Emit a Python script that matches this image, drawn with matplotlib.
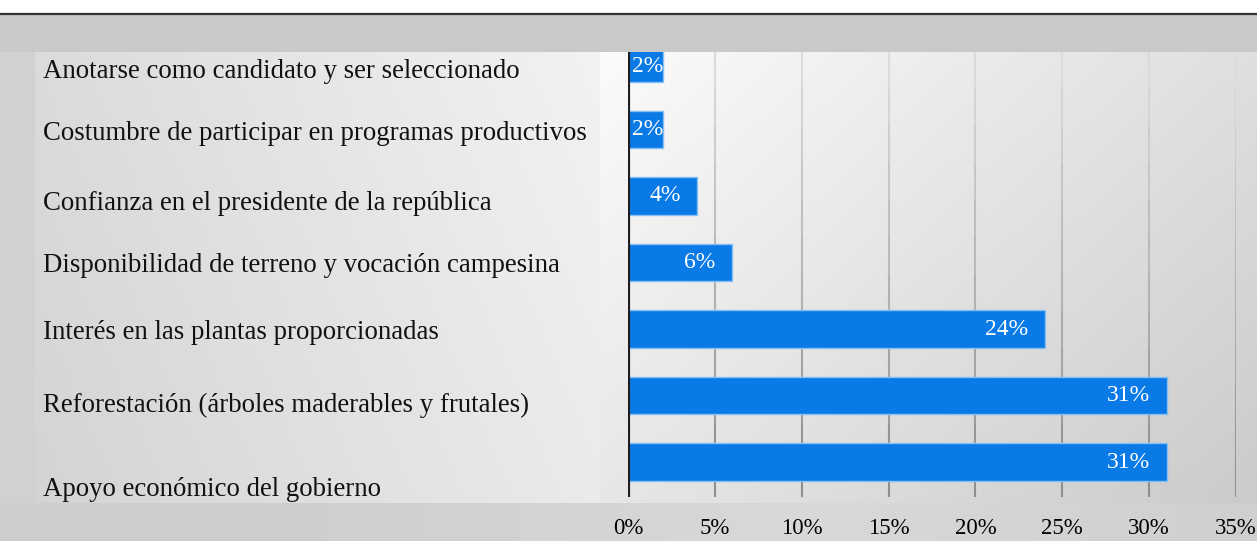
import numpy as np
import matplotlib.pyplot as plt
from matplotlib import transforms

# Survey answers (top to bottom) and their shares in percent
categories = [
    "Anotarse como candidato y ser seleccionado",
    "Costumbre de participar en programas productivos",
    "Confianza en el presidente de la república",
    "Disponibilidad de terreno y vocación campesina",
    "Interés en las plantas proporcionadas",
    "Reforestación (árboles maderables y frutales)",
    "Apoyo económico del gobierno",
]
values = [2, 2, 4, 6, 24, 31, 31]
ticks = [0, 5, 10, 15, 20, 25, 30, 35]
tick_labels = ["0%", "5%", "10%", "15%", "20%", "25%", "30%", "35%"]

# small vertical nudges (pixels) for the category text
label_nudge = [9, 4, 8, 3, 3, 10, 27]

W, H = 1257, 541
plt.rcParams["font.family"] = ["Liberation Serif", "DejaVu Serif"]

fig = plt.figure(figsize=(W / 100, H / 100), dpi=100)

# --- grey backdrop with soft gradients ---
yy, xx = np.mgrid[0:H, 0:W].astype(float)
bg = np.full((H, W), 0.80)
bg[yy < 13] = 1.0
bg[(yy >= 15) & (yy < 52)] = 0.79
panel = (yy >= 52) & (yy < 503)
bg[panel & (xx < 35)] = 0.82
left = panel & (xx >= 35) & (xx < 600)
fx = (xx - 35) / 565
fy = (yy - 52) / 451
bg[left] = (0.86 + 0.09 * fx - 0.03 * fy)[left]
right = panel & (xx >= 600)
gx = (xx - 600) / 657
bg[right] = (0.985 - 0.11 * gx - 0.08 * fy)[right]
bottom = yy >= 503
bg[bottom & (xx >= 35)] = (0.81 + 0.04 * np.clip(1 - np.abs(xx - 800) / 500, 0, 1))[bottom & (xx >= 35)]
bg[bottom & (xx < 35)] = 0.81
bg = np.clip(bg, 0, 1)

bax = fig.add_axes([0, 0, 1, 1], zorder=0)
bax.imshow(np.dstack([bg, bg, bg]), aspect="auto", extent=(0, W, H, 0))
bax.plot([0, W], [14, 14], color="#333333", lw=1.6)
bax.set_xlim(0, W)
bax.set_ylim(H, 0)
bax.axis("off")

# --- bar chart ---
ax = fig.add_axes([628 / W, (H - 497) / H, (1236 - 628) / W, (497 - 52) / H], zorder=1)
ax.patch.set_alpha(0)
pos = np.arange(len(values))
bar_h = 0.57
y_top, y_bot = -0.165, 6.526
ax.set_xlim(0, 35)
ax.set_ylim(y_bot, y_top)

# gridlines fade from light at the top to darker grey at the bottom
edges = np.linspace(y_top, y_bot, 13)
shades = np.linspace(0.86, 0.56, 12)
for t in ticks[1:]:
    for a, b, c in zip(edges[:-1], edges[1:], shades):
        ax.plot([t, t], [a, b], color=(c, c, c), lw=1.5, zorder=1,
                solid_capstyle="butt")

ax.barh(pos, values, height=bar_h, color="#0a7ae6", edgecolor="#86bff2",
        linewidth=1.0, zorder=2)
ax.axvline(0, color="#1e1e1e", lw=3, zorder=3)

for p, v in zip(pos, values):
    top = max(p - bar_h / 2, y_top)
    yc = (top + p + bar_h / 2) / 2
    if v < 3:
        ax.annotate(f"{v}%", (0, yc), xytext=(4, 0), textcoords="offset pixels",
                    ha="left", va="center", color="white", fontsize=17, zorder=4)
    else:
        ax.annotate(f"{v}%", (v, yc), xytext=(-17, 0), textcoords="offset pixels",
                    ha="right", va="center", color="white", fontsize=17, zorder=4)

ax.set_xticks(ticks)
ax.set_xticklabels(tick_labels, fontsize=16.5)
ax.tick_params(axis="x", length=0, pad=15)
ax.set_yticks([])
for s in ax.spines.values():
    s.set_visible(False)

# category names at the left
trans = transforms.blended_transform_factory(fig.transFigure, ax.transData)
for p, name, dy in zip(pos, categories, label_nudge):
    tr = transforms.offset_copy(trans, fig=fig, x=0, y=-dy, units="dots")
    ax.text(43 / W, p, name, transform=tr, ha="left", va="center",
            fontsize=19.3, color="#111111", clip_on=False)

fig.savefig("out.png", dpi=100)
